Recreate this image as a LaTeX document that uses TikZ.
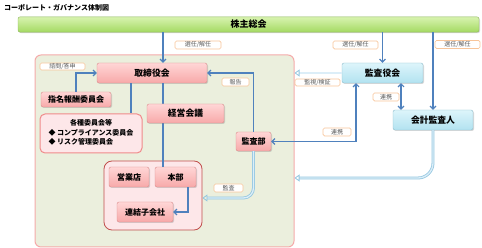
\documentclass[tikz,border=0pt]{standalone}
\usepackage{fontspec}
\setmainfont{Noto Sans CJK JP}
\usetikzlibrary{arrows.meta,shadows}

\definecolor{linkblue}{HTML}{4F81BD}
\definecolor{flowblue}{HTML}{93C6E0}
\definecolor{flowpale}{HTML}{DCEEF8}
\definecolor{pinktop}{HTML}{FFD6D6}
\definecolor{pinkbot}{HTML}{F7A9A9}
\definecolor{pinkline}{HTML}{D98C8C}
\definecolor{bluetop}{HTML}{DDF5FB}
\definecolor{bluebot}{HTML}{B2E2F0}
\definecolor{blueline}{HTML}{8DBCCB}
\definecolor{greentop}{HTML}{D8F3B0}
\definecolor{greenbot}{HTML}{A4DA62}
\definecolor{greenline}{HTML}{8DB45A}
\definecolor{corpfill}{HTML}{EBEFDD}
\definecolor{corpline}{HTML}{F5AAAA}
\definecolor{tagline}{HTML}{F8C59A}
\definecolor{grpfill}{HTML}{FDE7E9}
\definecolor{grpline}{HTML}{C0504D}
\definecolor{cmtline}{HTML}{F08A8A}

\begin{document}
\begin{tikzpicture}[x=1pt,y=-1pt,
  pinkbox/.style={draw=pinkline,top color=pinktop,bottom color=pinkbot,rounded corners=2pt,inner sep=0pt,
    font=\bfseries\fontsize{8}{9}\selectfont,drop shadow={shadow xshift=1pt,shadow yshift=-1pt,opacity=.3}},
  bigpink/.style={pinkbox,font=\bfseries\fontsize{8.8}{10}\selectfont},
  bluebox/.style={draw=blueline,top color=bluetop,bottom color=bluebot,rounded corners=2pt,inner sep=0pt,
    font=\bfseries\fontsize{8.8}{10}\selectfont,drop shadow={shadow xshift=1pt,shadow yshift=-1pt,opacity=.3}},
  tag/.style={draw=tagline,fill=white,rounded corners=1.5pt,line width=.7pt,inner sep=0pt,minimum height=8,
    font=\fontsize{6}{6.5}\selectfont,text=black!65},
  link/.style={draw=linkblue,line width=1.1pt,-{Straight Barb[length=3pt,width=6pt]}},
  flow/.style={draw=flowblue,double=flowpale,double distance=1.3pt,line width=.8pt,-{Triangle[open,length=5pt,width=7pt]}}]
  \useasboundingbox (0,0) rectangle (482,248);

  \node[anchor=west,font=\bfseries\fontsize{7}{8}\selectfont,inner sep=0pt] (title) at (4,8) {コーポレート・ガバナンス体制図};
  \node[draw=greenline,top color=greentop,bottom color=greenbot,rounded corners=2pt,minimum width=461,minimum height=15,
    font=\bfseries\fontsize{9}{10}\selectfont,drop shadow={shadow xshift=1pt,shadow yshift=-1pt,opacity=.3}] (gm) at (248.5,24.5) {株主総会};

  % company side
  \node[draw=corpline,fill=corpfill,line width=1pt,rounded corners=6pt,minimum width=259,minimum height=192] (corp) at (164.5,151) {};
  \node[bigpink,minimum width=110,minimum height=20] (board) at (152,73) {取締役会};
  \node[pinkbox,minimum width=70,minimum height=15] (nomination) at (76,99.5) {指名報酬委員会};
  \node[draw=cmtline,fill=grpfill,line width=1pt,rounded corners=5pt,minimum width=102,minimum height=39,inner sep=0pt,
    font=\bfseries\fontsize{7}{9.5}\selectfont] (committees) at (91,133.5)
    {\begin{tabular}{@{}l@{}}\multicolumn{1}{@{}c@{}}{各種委員会等}\\◆ コンプライアンス委員会\\◆ リスク管理委員会\end{tabular}};
  \node[pinkbox,minimum width=35,minimum height=19] (audit) at (253.5,141.5) {監査部};
  \node[draw=grpline,fill=grpfill,line width=.8pt,rounded corners=8pt,minimum width=98,minimum height=69] (group) at (153,195.5) {};
  \node[pinkbox,minimum width=40,minimum height=20] (branches) at (129,177) {営業店};
  \node[pinkbox,minimum width=41,minimum height=20] (hq) at (175.5,177) {本部};
  \node[pinkbox,minimum width=56,minimum height=20] (subs) at (145,212) {連結子会社};

  % auditors side
  \node[bluebox,minimum width=81,minimum height=20] (kansa) at (382.5,73) {監査役会};
  \node[bluebox,minimum width=80,minimum height=20] (accountant) at (433,120) {会計監査人};

  % lines from the board
  \coordinate (bt) at ([xshift=11pt]board.north);
  \coordinate (bb) at ([xshift=11pt]board.south);
  \coordinate (bc) at ([xshift=-21pt]board.south);
  \draw[linkblue,line width=1.1pt] (bb) -- (bb |- hq.north);
  \draw[linkblue,line width=1.1pt] (bc) -- (bc |- committees.north);
  \node[bigpink,minimum width=77,minimum height=19] (mgmt) at (185.5,113.5) {経営会議};

  % connectors
  \draw[link] (gm.south -| bt) -- (bt);
  \draw[link] (gm.south -| kansa.north) -- (kansa.north);
  \draw[link] (gm.south -| accountant.north) -- (accountant.north);
  \draw[link] (nomination.north) |- (board.west);
  \draw[link] (audit.north) |- (board.east);
  \coordinate (ks) at ([xshift=-26.5pt]kansa.south);
  \draw[link,{Straight Barb[length=3pt,width=6pt]}-{Straight Barb[length=3pt,width=6pt]}] (audit.east) -| (ks);
  \coordinate (kr) at ([xshift=18.5pt]kansa.south);
  \draw[link,{Straight Barb[length=3pt,width=6pt]}-{Straight Barb[length=3pt,width=6pt]}] (kr) -- (kr |- accountant.north);
  \coordinate (hs) at ([xshift=12.5pt]hq.south);
  \draw[link] (hs) |- (subs.east);
  \draw[flow] (kansa.west) -- (kansa.west -| corp.east);
  \draw[flow,rounded corners=10pt] (audit.south) |- ([yshift=-2.5pt]group.east);
  \draw[flow,rounded corners=15pt] (accountant.south) |- ([yshift=-27pt]corp.east);

  % labels
  \node[tag,minimum width=46] (t1) at (198,45) {選任/解任};
  \node[tag,minimum width=45] (t2) at (355.5,45) {選任/解任};
  \node[tag,minimum width=45] (t3) at (457.5,44.5) {選任/解任};
  \node[tag,minimum width=45,minimum height=7] (t4) at (62.5,66.5) {諮問/答申};
  \node[tag,minimum width=27] (t5) at (235.5,82) {報告};
  \node[tag,minimum width=45,minimum height=7] (t6) at (317.5,82.5) {監視/検証};
  \node[tag,minimum width=26] (t7) at (386,97) {連携};
  \node[tag,minimum width=28] (t8) at (337,132) {連携};
  \node[tag,minimum width=29] (t9) at (228.5,188) {監査};
\end{tikzpicture}
\end{document}
